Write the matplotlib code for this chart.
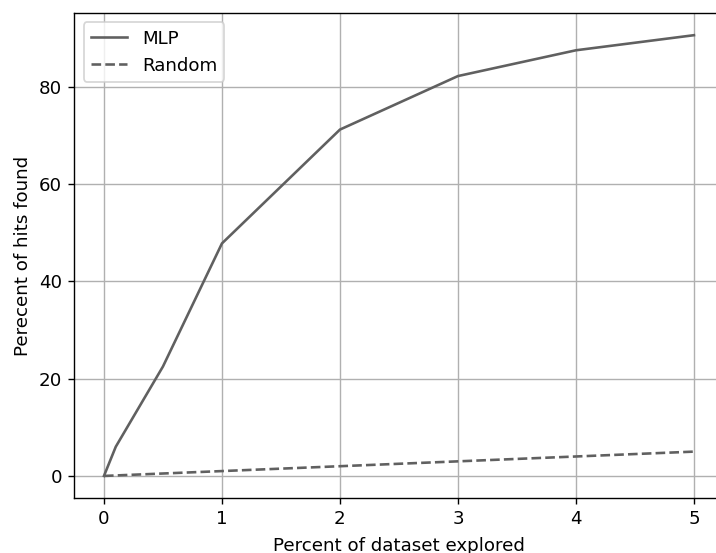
import matplotlib
matplotlib.use("Agg")
import matplotlib.pyplot as plt

DPI = 125

# percent of dataset explored
explored = [0, 0.1, 0.5, 1, 2, 3, 4, 5]
# percent of hits found
mlp_hits = [0, 6.0, 22.5, 47.8, 71.2, 82.2, 87.5, 90.6]
random_hits = [0, 0.1, 0.5, 1, 2, 3, 4, 5]


def main():
    plt.rcParams["font.size"] = 10.5
    fig = plt.figure(figsize=(716 / DPI, 553 / DPI), dpi=DPI)
    ax = fig.add_axes([0.104, 0.0995, 0.9064, 0.8767])
    ax.plot(explored, mlp_hits, color="#606060", lw=1.5, label="MLP")
    ax.plot(explored, random_hits, color="#606060", lw=1.5, ls="--", label="Random")
    ax.set_xlabel("Percent of dataset explored", labelpad=5)
    ax.set_ylabel("Perecent of hits found")
    ax.grid(True)
    ax.legend(loc="upper left")
    fig.savefig("out.png", dpi=DPI)


if __name__ == "__main__":
    main()
